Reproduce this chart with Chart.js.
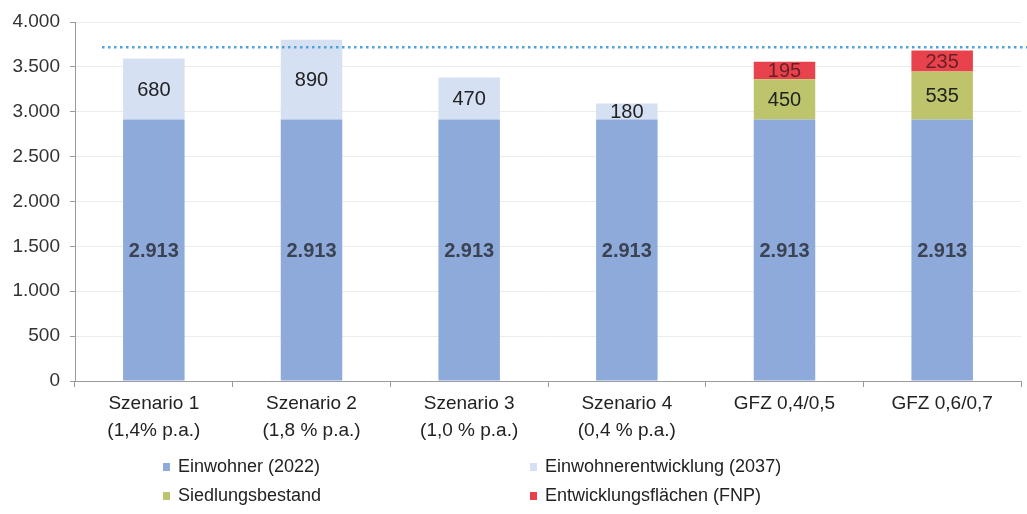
<!DOCTYPE html>
<html>
<head>
<meta charset="utf-8">
<script src="https://cdn.jsdelivr.net/npm/chart.js@4.4.1/dist/chart.umd.min.js"></script>
<style>
  html, body { margin: 0; padding: 0; background: #ffffff; }
  #wrap { position: relative; width: 1027px; height: 514px; }
</style>
</head>
<body>
<div id="wrap"><canvas id="c" width="1027" height="514"></canvas></div>
<script>
// Categories (two-line axis labels)
const categories = [
  ['Szenario 1', '(1,4% p.a.)'],
  ['Szenario 2', '(1,8 % p.a.)'],
  ['Szenario 3', '(1,0 % p.a.)'],
  ['Szenario 4', '(0,4 % p.a.)'],
  ['GFZ 0,4/0,5'],
  ['GFZ 0,6/0,7']
];

// Series values
const einwohner2022        = [2913, 2913, 2913, 2913, 2913, 2913];
const einwohnerentwicklung = [680, 890, 470, 180, null, null];
const siedlungsbestand     = [null, null, null, null, 450, 535];
const entwicklungsflaechen = [null, null, null, null, 195, 235];

// Series names
const seriesNames = [
  'Einwohner (2022)',
  'Einwohnerentwicklung (2037)',
  'Siedlungsbestand',
  'Entwicklungsflächen (FNP)'
];

// Value axis ticks and dotted reference level
const yTicks = [0, 500, 1000, 1500, 2000, 2500, 3000, 3500, 4000];
const referenceLevel = 3720;

const FONT = "'Liberation Sans', Arial, sans-serif";

function fmtDe(v) {
  const s = String(Math.round(v));
  return s.replace(/\B(?=(\d{3})+(?!\d))/g, '.');
}

const colors = ['#8eaadb', '#d6e0f3', '#bdc46c', '#e8424c'];
const labelStyle = [
  { font: 'bold 20px ' + FONT, color: '#3b4252' },
  { font: '20px ' + FONT, color: '#222222' },
  { font: '20px ' + FONT, color: '#222222' },
  { font: '20px ' + FONT, color: '#6a1f27' }
];

// Values written in the middle of each segment
const segmentLabels = {
  id: 'segmentLabels',
  afterDatasetsDraw(chart) {
    const ctx = chart.ctx;
    ctx.save();
    ctx.textAlign = 'center';
    ctx.textBaseline = 'middle';
    chart.data.datasets.forEach((ds, di) => {
      const meta = chart.getDatasetMeta(di);
      meta.data.forEach((bar, i) => {
        const v = ds.data[i];
        if (v === null || v === undefined) return;
        const yMid = (bar.y + bar.base) / 2;
        ctx.font = labelStyle[di].font;
        ctx.fillStyle = labelStyle[di].color;
        ctx.fillText(fmtDe(v), bar.x, yMid + 1);
      });
    });
    ctx.restore();
  }
};

// Dotted horizontal reference line
const referenceLine = {
  id: 'referenceLine',
  afterDatasetsDraw(chart) {
    const ctx = chart.ctx;
    const y = chart.scales.y.getPixelForValue(referenceLevel);
    ctx.save();
    ctx.strokeStyle = '#4fa3dc';
    ctx.lineWidth = 2.5;
    ctx.setLineDash([2.5, 3.5]);
    ctx.beginPath();
    ctx.moveTo(chart.chartArea.left + 27, y);
    ctx.lineTo(chart.width, y);
    ctx.stroke();
    ctx.restore();
  }
};

// Two-column legend below the chart
const bottomLegend = {
  id: 'bottomLegend',
  afterDraw(chart) {
    const ctx = chart.ctx;
    const colX = [163, 530];
    const rowY = [467, 496];
    ctx.save();
    ctx.font = '18px ' + FONT;
    ctx.textBaseline = 'middle';
    ctx.textAlign = 'left';
    chart.data.datasets.forEach((ds, i) => {
      const x = colX[i % 2];
      const y = rowY[Math.floor(i / 2)];
      ctx.fillStyle = ds.backgroundColor;
      ctx.fillRect(x, y - 4, 7, 8);
      ctx.fillStyle = '#222222';
      ctx.fillText(ds.label, x + 15, y);
    });
    ctx.restore();
  }
};

const datasets = [einwohner2022, einwohnerentwicklung, siedlungsbestand, entwicklungsflaechen]
  .map((data, i) => ({
    label: seriesNames[i],
    data: data,
    backgroundColor: colors[i],
    borderWidth: 0,
    categoryPercentage: 1,
    barPercentage: 0.39
  }));

new Chart(document.getElementById('c'), {
  type: 'bar',
  data: { labels: categories, datasets: datasets },
  options: {
    responsive: false,
    animation: false,
    layout: { padding: { top: 22, right: 6, left: 0, bottom: 0 } },
    plugins: {
      legend: { display: false },
      tooltip: { enabled: false }
    },
    scales: {
      x: {
        stacked: true,
        afterFit(scale) { scale.height = 133; },
        border: { color: '#9a9a9a', width: 1 },
        grid: {
          drawOnChartArea: false,
          tickLength: 6,
          tickColor: '#9a9a9a'
        },
        ticks: {
          color: '#222222',
          font: { family: FONT, size: 19, lineHeight: 1.38 },
          padding: 4,
          maxRotation: 0,
          autoSkip: false
        }
      },
      y: {
        stacked: true,
        min: 0,
        max: 4000,
        afterFit(scale) { scale.width = 75; },
        afterBuildTicks(scale) { scale.ticks = yTicks.map(v => ({ value: v })); },
        border: { color: '#9a9a9a', width: 1 },
        grid: {
          color: '#ececec',
          tickLength: 5,
          tickColor: '#9a9a9a'
        },
        ticks: {
          color: '#333333',
          font: { family: FONT, size: 19 },
          padding: 10,
          callback: (v) => fmtDe(v)
        }
      }
    }
  },
  plugins: [segmentLabels, referenceLine, bottomLegend]
});
</script>
</body>
</html>
